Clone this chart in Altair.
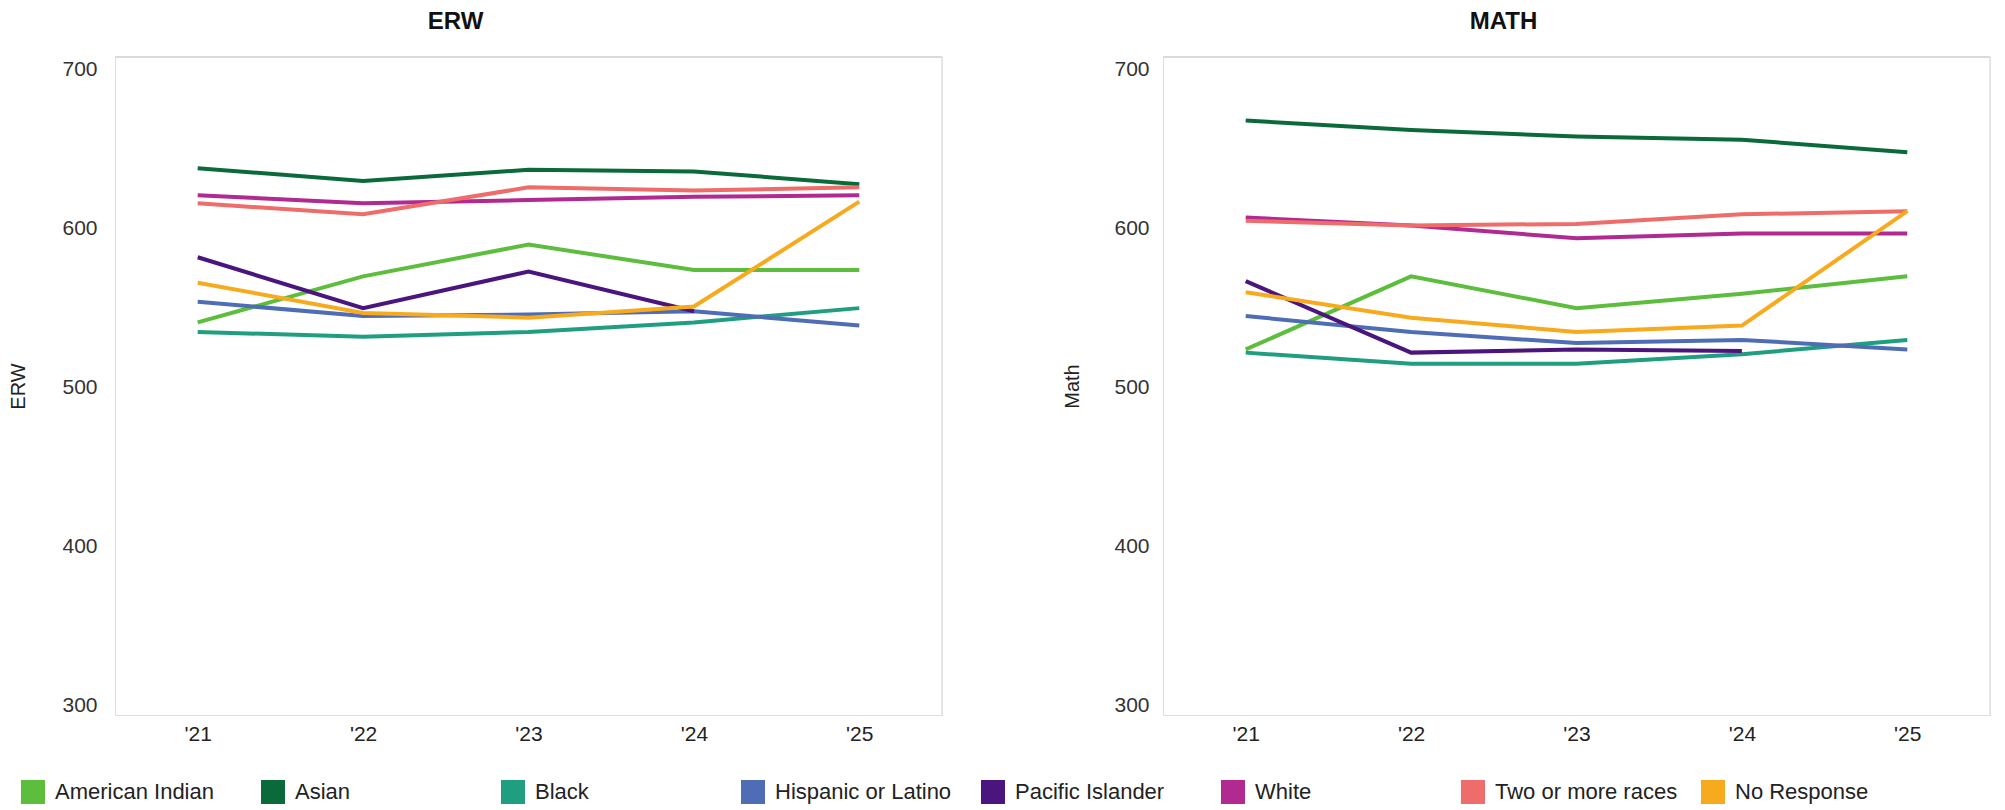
import altair as alt
import pandas as pd

years = ["'21", "'22", "'23", "'24", "'25"]
groups = ["American Indian", "Asian", "Black", "Hispanic or Latino",
          "Pacific Islander", "White", "Two or more races", "No Response"]
colors = ["#5dbd3c", "#0b6a3a", "#1f9e80", "#4f6db4",
          "#4a157d", "#b12a91", "#ee6c6a", "#f8aa1e"]
y_ticks = [300, 400, 500, 600, 700]

# ERW scores ('21..'25); None = not reported
erw_american_indian = [541, 570, 590, 574, 574]
erw_asian = [638, 630, 637, 636, 628]
erw_black = [535, 532, 535, 541, 550]
erw_hispanic = [554, 545, 546, 548, 539]
erw_pacific = [582, 550, 573, 548, None]
erw_white = [621, 616, 618, 620, 621]
erw_two_or_more = [616, 609, 626, 624, 626]
erw_no_response = [566, 547, 544, 551, 617]

# Math scores
math_american_indian = [524, 570, 550, 559, 570]
math_asian = [668, 662, 658, 656, 648]
math_black = [522, 515, 515, 521, 530]
math_hispanic = [545, 535, 528, 530, 524]
math_pacific = [567, 522, 524, 523, None]
math_white = [607, 602, 594, 597, 597]
math_two_or_more = [605, 602, 603, 609, 611]
math_no_response = [560, 544, 535, 539, 611]

erw_series = [erw_american_indian, erw_asian, erw_black, erw_hispanic,
              erw_pacific, erw_white, erw_two_or_more, erw_no_response]
math_series = [math_american_indian, math_asian, math_black, math_hispanic,
               math_pacific, math_white, math_two_or_more, math_no_response]


def to_frame(series_list):
    rows = []
    for g, vals in zip(groups, series_list):
        for yr, v in zip(years, vals):
            if v is not None:
                rows.append({"group": g, "year": yr, "score": v})
    return pd.DataFrame(rows)


FONT = "Liberation Sans"
W, H = 827, 658

legend = alt.Legend(
    title=None, orient="none", legendX=-94, legendY=723,
    direction="horizontal", columns=8, symbolType="square",
    symbolSize=144, symbolStrokeWidth=12, symbolOpacity=1,
    labelFontSize=22, labelFont=FONT, labelColor="#222",
    labelOffset=10, labelLimit=400, columnPadding=5,
    gridAlign="all", padding=0,
)

frame_df = pd.DataFrame({"k": [0]})


def panel(series_list, title_text, y_title, label_pad, title_pad):
    df = to_frame(series_list)
    lines = alt.Chart(df).mark_line(strokeWidth=4).encode(
        x=alt.X("year:O", sort=years,
                scale=alt.Scale(type="point", padding=0.5),
                axis=alt.Axis(title=None, labelAngle=0, labelFontSize=21,
                              labelFont=FONT, labelColor="#222",
                              labelPadding=8, ticks=False, domain=False,
                              grid=False)),
        y=alt.Y("score:Q",
                scale=alt.Scale(domain=[294, 708], nice=False, zero=False),
                axis=alt.Axis(values=y_ticks, title=y_title,
                              titleFontSize=20, titleFont=FONT,
                              titleFontWeight="normal", titleColor="#222",
                              titlePadding=title_pad,
                              labelFontSize=21, labelFont=FONT,
                              labelColor="#333", labelPadding=label_pad,
                              ticks=False, domain=False, grid=False)),
        color=alt.Color("group:N",
                        scale=alt.Scale(domain=groups, range=colors),
                        legend=legend),
    )
    top = alt.Chart(frame_df).mark_rule(color="#dadada", strokeWidth=2).encode(
        x=alt.value(0), x2=alt.value(W), y=alt.value(0))
    right = alt.Chart(frame_df).mark_rule(color="#e2e2e2", strokeWidth=1.5).encode(
        x=alt.value(W), y=alt.value(0), y2=alt.value(H))
    return alt.layer(top, right, lines).properties(
        width=W, height=H,
        title=alt.TitleParams(text=title_text, fontSize=24, font=FONT,
                              fontWeight="bold", color="#111",
                              anchor="middle", frame="group", dx=-73,
                              offset=22),
    )


chart = alt.hconcat(
    panel(erw_series, "ERW", "ERW", 18, 33),
    panel(math_series, "MATH", "Math", 14, 31),
    spacing=118,
).properties(
    padding={"left": 0, "top": 1, "right": 0, "bottom": 0},
    background="white",
).configure_view(stroke=None).configure(font=FONT)

chart.save("out.html", embed_options={"renderer": "svg", "actions": False})
